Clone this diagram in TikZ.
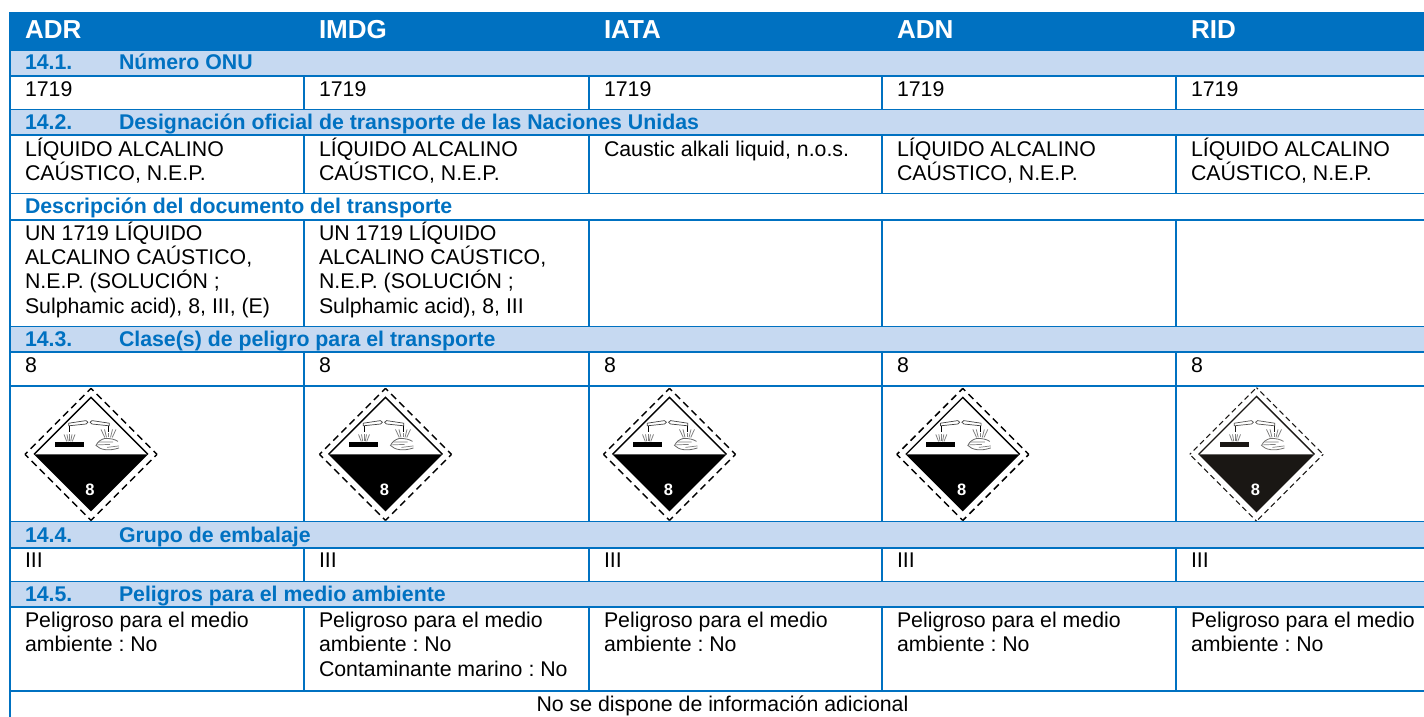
\documentclass[tikz,border=0pt]{standalone}
\usepackage{fontspec}
\setmainfont{Liberation Sans}
\frenchspacing
\definecolor{hdr}{RGB}{0,113,193}
\definecolor{band}{RGB}{198,217,241}
\definecolor{ink}{RGB}{26,23,20}
\tikzset{
  cell/.style={anchor=base west,inner sep=0pt,outer sep=0pt,font=\fontsize{21.3}{24.3}\selectfont,text=black,align=left},
  sect/.style={anchor=base west,inner sep=0pt,outer sep=0pt,font=\fontsize{21.3}{24.3}\selectfont\bfseries,text=hdr},
  head/.style={anchor=base west,inner sep=0pt,outer sep=0pt,font=\fontsize{26}{28}\selectfont\bfseries,text=white},
  rule/.style={draw=hdr,line width=1.8pt},
  pics/hazard/.style n args={5}{code={
    % #1 outer half, #2 inner half, #3 fill, #4 dash width, #5 dash pattern
    \foreach \ax/\ay/\bx/\by in {-1/0/0/-1,0/-1/1/0,1/0/0/1,0/1/-1/0}
      \draw[line width=#4pt,dash pattern=#5,dash phase=3.5pt,#3] (\ax*#1,\ay*#1) -- (\bx*#1,\by*#1);
    \fill[#3] (-#2,0) -- (#2,0) -- (0,#2) -- cycle;
    \draw[line width=1.3pt,#3] (-#2,0) -- (0,-#2) -- (#2,0);
    \node[inner sep=0pt,text=white,font=\fontsize{16.5}{17}\selectfont\bfseries] at (-1,35.7) {8};
    % bar
    \fill[#3] (-36.5,-12) rectangle (-7.5,-7.2);
    % test tubes
    \draw[line width=.7pt,#3!75!white] (-22.3,-31.2) -- (-5,-33.8)
      .. controls (-2.5,-34) and (-2.5,-30.4) .. (-5,-30.4) -- (-22.3,-28.6) -- cycle;
    \draw[line width=.7pt,#3!75!white] (18.3,-31.2) -- (1,-33.8)
      .. controls (-1.5,-34) and (-1.5,-30.4) .. (1,-30.4) -- (18.3,-28.6) -- cycle;
    % drips and splashes
    \draw[line width=1pt,#3] (-21.5,-28.5) -- (-21.5,-22);
    \draw[line width=1pt,#3] (17.5,-28.5) -- (17.5,-22);
    \foreach \dx in {-27,-24,-19,-16}{
      \draw[line width=.8pt,gray] ({-21.5+(\dx+21.5)*.5},-13) -- (\dx,-20);}
    \draw[line width=1pt,gray] (-21.5,-20) -- (-21.5,-13);
    \foreach \dx in {10,13.5,21.5,25}{
      \draw[line width=.8pt,gray] ({17.5+(\dx-17.5)*.5},-17) -- (\dx,-25);}
    \draw[line width=1pt,gray] (17.5,-21) -- (17.5,-17);
    % hand
    \draw[line width=.8pt,#3!60!white] (28,-6.5) .. controls (18,-3) and (9,-4.5) .. (5,-9)
      .. controls (7,-13) and (10,-15) .. (14,-16) .. controls (20,-16) and (24,-15) .. (27,-13);
    \draw[line width=.7pt,gray] (6,-9.5) -- (19,-10) (8,-12.5) -- (22,-12.5) (16,-7) -- (28,-8.5);
  }},
}
\begin{document}
\begin{tikzpicture}[x=1pt,y=-1pt]
\useasboundingbox (0,0) rectangle (1424,717);
% bands
\fill[hdr] (9,12) rectangle (1424,50.7);
\foreach \ya/\yb in {50.7/76,109.5/135,326.5/352,521.5/548,581.5/607}
  \fill[band] (10,\ya) rectangle (1424,\yb);
% horizontal rules
\foreach \yy in {76,109.5,135,193.5,220,326.5,352,386,521.5,548,581.5,607,690.7}
  \draw[rule] (9.2,\yy) -- (1424,\yy);
% left edge
\draw[rule] (10,50) -- (10,717);
% column separators
\foreach \xx in {304,589,882,1176}{
  \foreach \ya/\yb in {76/109.5,135/193.5,220/326.5,352/521.5,548/581.5,607/690.7}
    \draw[rule] (\xx,\ya) -- (\xx,\yb);}
% headers
\node[head] (hA) at (25,39) {ADR};
\node[head] (hB) at (319,39) {IMDG};
\node[head] (hC) at (604,39) {IATA};
\node[head] (hD) at (897,39) {ADN};
\node[head] (hE) at (1191,39) {RID};
% section titles
\node[sect] (n1) at (25,69.5) {14.1.};  \node[sect] (t1) at (119,69.5) {Número ONU};
\node[sect] (n2) at (25,129.5) {14.2.}; \node[sect] (t2) at (119,129.5) {Designación oficial de transporte de las Naciones Unidas};
\node[sect] (t2b) at (25,213.3) {Descripción del documento del transporte};
\node[sect] (n3) at (25,346.7) {14.3.}; \node[sect] (t3) at (119,346.7) {Clase(s) de peligro para el transporte};
\node[sect] (n4) at (25,542) {14.4.};   \node[sect] (t4) at (119,542) {Grupo de embalaje};
\node[sect] (n5) at (25,601.7) {14.5.}; \node[sect] (t5) at (119,601.7) {Peligros para el medio ambiente};
% row values
\foreach \nm/\xx in {a/25,b/319,c/604,d/897,e/1191}{
  \node[cell] (un\nm) at (\xx,96) {1719};
  \node[cell] (cl\nm) at (\xx,372.7) {8};
  \node[cell] (pg\nm) at (\xx,567.7) {III};
}
\foreach \nm/\xx in {a/25,b/319,d/897,e/1191}{
  \node[cell] (la\nm) at (\xx,156) {LÍQUIDO ALCALINO};
  \node[cell] (lb\nm) at (\xx,180) {CAÚSTICO, N.E.P.};
}
\node[cell] (lac) at (604,156) {Caustic alkali liquid, n.o.s.};
\foreach \nm/\xx in {a/25,b/319}{
  \node[cell] (da\nm) at (\xx,240) {UN 1719 LÍQUIDO};
  \node[cell] (db\nm) at (\xx,264.5) {ALCALINO CAÚSTICO,};
  \node[cell] (dc\nm) at (\xx,288.7) {N.E.P. (SOLUCIÓN ;};
}
\node[cell] (dda) at (25,313.5) {Sulphamic acid), 8, III, (E)};
\node[cell] (ddb) at (319,313.5) {Sulphamic acid), 8, III};
\foreach \nm/\xx in {a/25,b/319,c/604,d/897,e/1191}{
  \node[cell] (ea\nm) at (\xx,627.7) {Peligroso para el medio};
  \node[cell] (eb\nm) at (\xx,651.7) {ambiente : No};
}
\node[cell] (mar) at (319,676.7) {Contaminante marino : No};
\node[cell,anchor=base] (info) at (722.5,711) {No se dispone de información adicional};
% hazard signs
\pic at (91,454.4) {hazard={66}{57}{black}{1.5}{on 7pt off 4.5pt}};
\pic at (385.5,454.4) {hazard={66}{57}{black}{1.5}{on 7pt off 4.5pt}};
\pic at (669.5,454.4) {hazard={66}{57}{black}{1.5}{on 7pt off 4.5pt}};
\pic at (962.8,454.4) {hazard={66}{57}{black}{1.5}{on 7pt off 4.5pt}};
\pic at (1256.5,454.4) {hazard={66.7}{58}{ink}{1.1}{on 5.5pt off 3.5pt}};
\end{tikzpicture}
\end{document}
